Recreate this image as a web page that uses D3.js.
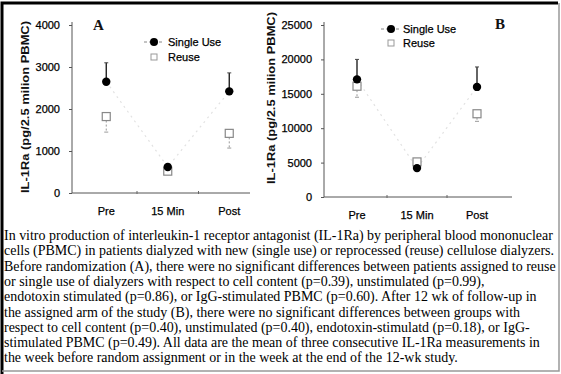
<!DOCTYPE html>
<html>
<head>
<meta charset="utf-8">
<script src="https://cdn.jsdelivr.net/npm/d3@7"></script>
<style>
  body { margin: 0; background: #fff; }
  svg { display: block; }
</style>
</head>
<body>
<svg id="chart" width="561" height="374"></svg>
<script>
var width = 561, height = 374

// data
var categories = ['Pre', '15 Min', 'Post']

// panel A (before randomization)
var singleA = [2650, 620, 2420]
var singleAErr = [3100, 620, 2860]   // upper end of error bar
var reuseA = [1820, 520, 1420]
var reuseAErr = [1450, 520, 1070]    // lower end of error bar
var ticksA = [0, 1000, 2000, 3000, 4000]

// panel B (after 12 wk)
var singleB = [17100, 4200, 16000]
var singleBErr = [20000, 4200, 18900]
var reuseB = [16100, 5100, 12100]
var reuseBErr = [14500, 5100, 11000]
var ticksB = [0, 5000, 10000, 15000, 20000, 25000]

var yLabel = 'IL-1Ra (pg/2.5 milion PBMC)'
var legendNames = ['Single Use', 'Reuse']

var caption = [
  'In vitro production of interleukin-1 receptor antagonist (IL-1Ra) by peripheral blood mononuclear',
  'cells (PBMC) in patients dialyzed with new (single use) or reprocessed (reuse) cellulose dialyzers.',
  'Before randomization (A), there were no significant differences between patients assigned to reuse',
  'or single use of dialyzers with respect to cell content (p=0.39), unstimulated (p=0.99),',
  'endotoxin stimulated (p=0.86), or IgG-stimulated PBMC (p=0.60). After 12 wk of follow-up in',
  'the assigned arm of the study (B), there were no significant differences between groups with',
  'respect to cell content (p=0.40), unstimulated (p=0.40), endotoxin-stimulatd (p=0.18), or IgG-',
  'stimulated PBMC (p=0.49). All data are the mean of three consecutive IL-1Ra measurements in',
  'the week before random assignment or in the week at the end of the 12-wk study.'
]

var svg = d3.select('#chart')

function panel(opt) {
  var g = svg.append('g')
  var y = d3.scaleLinear().domain([0, opt.yMax]).range([opt.y0, opt.y1])
  var x = d3.scaleBand().domain(categories).range([opt.x0, opt.x0 + opt.step * 3])

  var cx = function(d, i) { return x(categories[i]) + x.bandwidth() / 2 }

  // y axis
  var ya = g.append('g')
    .attr('transform', 'translate(' + opt.axisX + ',0)')
    .call(d3.axisLeft(y).tickValues(opt.ticks).tickSize(3).tickPadding(9).tickFormat(d3.format('d')))
  ya.select('.domain').attr('d', 'M0,' + (opt.y1 - 3) + 'V' + opt.y0).attr('stroke', '#555')
  ya.selectAll('.tick line').attr('stroke', '#555')
  ya.selectAll('.tick text')
    .attr('font-family', 'Liberation Sans, Arial, sans-serif')
    .attr('font-size', 11).attr('fill', '#000')
    .attr('stroke', '#000').attr('stroke-width', 0.25)

  // x axis
  var xa = g.append('g')
    .attr('transform', 'translate(0,' + opt.y0 + ')')
  xa.append('line')
    .attr('x1', opt.axisX).attr('x2', opt.axisEnd)
    .attr('stroke', '#555')
  xa.selectAll('.sep')
    .data(categories.slice(1))
    .enter().append('line')
    .attr('x1', function(d) { return x(d) }).attr('x2', function(d) { return x(d) })
    .attr('y1', -2).attr('y2', 1)
    .attr('stroke', '#666')
  xa.selectAll('.cat')
    .data(categories)
    .enter().append('text')
    .attr('x', function(d) { return x(d) + x.bandwidth() / 2 })
    .attr('y', opt.catY - opt.y0)
    .attr('text-anchor', 'middle')
    .attr('font-family', 'Liberation Sans, Arial, sans-serif')
    .attr('font-size', 11).attr('fill', '#000')
    .attr('stroke', '#000').attr('stroke-width', 0.25)
    .text(function(d) { return d })

  // y label
  g.append('text')
    .attr('transform', 'translate(' + opt.labelX + ',' + opt.labelY + ') rotate(-90)')
    .attr('text-anchor', 'middle')
    .attr('font-family', 'Liberation Sans, Arial, sans-serif')
    .attr('font-weight', 'bold')
    .attr('font-size', 11)
    .attr('textLength', 172).attr('lengthAdjust', 'spacingAndGlyphs')
    .attr('fill', '#111')
    .text(yLabel)

  // faint dotted connector through the single use means
  g.append('path')
    .datum(opt.single)
    .attr('fill', 'none')
    .attr('stroke', '#e2e2e2')
    .attr('stroke-width', 1.2)
    .attr('stroke-dasharray', '2,4')
    .attr('d', d3.line().x(cx).y(function(d) { return y(d) }))

  // reuse error bars (down) + open squares
  g.selectAll('.rerr')
    .data(opt.reuse)
    .enter().append('line')
    .attr('x1', cx).attr('x2', cx)
    .attr('y1', function(d) { return y(d) })
    .attr('y2', function(d, i) { return y(opt.reuseErr[i]) })
    .attr('stroke', '#999').attr('stroke-dasharray', '2,2')
  g.selectAll('.rcap')
    .data(opt.reuseErr)
    .enter().append('line')
    .attr('x1', function(d, i) { return cx(d, i) - 2 }).attr('x2', function(d, i) { return cx(d, i) + 2 })
    .attr('y1', function(d) { return y(d) }).attr('y2', function(d) { return y(d) })
    .attr('stroke', '#999')

  // single use error bars (up)
  g.selectAll('.serr')
    .data(opt.single)
    .enter().append('line')
    .attr('x1', cx).attr('x2', cx)
    .attr('y1', function(d) { return y(d) })
    .attr('y2', function(d, i) { return y(opt.singleErr[i]) })
    .attr('stroke', '#111').attr('stroke-width', 1.3)
  g.selectAll('.scap')
    .data(opt.singleErr)
    .enter().append('line')
    .attr('x1', function(d, i) { return cx(d, i) - 2 }).attr('x2', function(d, i) { return cx(d, i) + 2 })
    .attr('y1', function(d) { return y(d) }).attr('y2', function(d) { return y(d) })
    .attr('stroke', '#444')

  g.selectAll('.sq')
    .data(opt.reuse)
    .enter().append('rect')
    .attr('x', function(d, i) { return cx(d, i) - 4 })
    .attr('y', function(d) { return y(d) - 4 })
    .attr('width', 8).attr('height', 8)
    .attr('fill', '#fff').attr('stroke', '#888').attr('stroke-width', 1.2)

  g.selectAll('.dot')
    .data(opt.single)
    .enter().append('circle')
    .attr('cx', cx)
    .attr('cy', function(d) { return y(d) })
    .attr('r', 4.2)
    .attr('fill', '#000')

  // legend
  var lg = g.append('g')
    .attr('font-family', 'Liberation Sans, Arial, sans-serif')
    .attr('font-size', 11).attr('fill', '#000')
  lg.append('line')
    .attr('x1', opt.legX - 10).attr('x2', opt.legX + 9)
    .attr('y1', opt.legY).attr('y2', opt.legY)
    .attr('stroke', '#888').attr('stroke-dasharray', '3,2')
  lg.append('circle').attr('cx', opt.legX).attr('cy', opt.legY).attr('r', 4).attr('fill', '#000')
  lg.append('rect')
    .attr('x', opt.legX - 3).attr('y', opt.legY + opt.legGap - 3)
    .attr('width', 6).attr('height', 6)
    .attr('fill', '#fff').attr('stroke', '#999')
  lg.selectAll('.lt')
    .data(legendNames)
    .enter().append('text')
    .attr('x', opt.legTextX)
    .attr('y', function(d, i) { return opt.legY + i * opt.legGap + 4 })
    .attr('stroke', '#000').attr('stroke-width', 0.25)
    .text(function(d) { return d })

  // panel letter
  g.append('text')
    .attr('x', opt.letterX).attr('y', opt.letterY)
    .attr('font-family', 'Liberation Serif, Times New Roman, serif')
    .attr('font-weight', 'bold').attr('font-size', 15)
    .attr('fill', '#111')
    .text(opt.letter)
}

panel({
  yMax: 4000, ticks: ticksA, y0: 193, y1: 25,
  x0: 75.5, step: 61.5, axisX: 72, axisEnd: 250, catY: 215,
  single: singleA, singleErr: singleAErr, reuse: reuseA, reuseErr: reuseAErr,
  labelX: 29, labelY: 107,
  legX: 154, legY: 42, legGap: 15, legTextX: 168,
  letter: 'A', letterX: 93, letterY: 30
})

panel({
  yMax: 25000, ticks: ticksB, y0: 197, y1: 25,
  x0: 327, step: 60, axisX: 324, axisEnd: 512, catY: 219,
  single: singleB, singleErr: singleBErr, reuse: reuseB, reuseErr: reuseBErr,
  labelX: 275, labelY: 98,
  legX: 391, legY: 29, legGap: 14, legTextX: 403,
  letter: 'B', letterX: 495, letterY: 29
})

// caption
var cap = svg.append('g')
  .attr('font-family', 'Liberation Serif, Times New Roman, serif')
  .attr('fill', '#000')
var capText = cap.selectAll('text')
  .data(caption)
  .enter().append('text')
  .attr('x', 4)
  .attr('y', function(d, i) { return 240 + i * 15.3 })
  .attr('font-size', 12)
  .text(function(d) { return d })
// scale the font so the first line spans the width as in the scan
var w0 = capText.node().getComputedTextLength()
capText.attr('font-size', 12 * 549 / w0)

// border of the scanned figure
svg.append('path')
  .attr('d', 'M2,374V3H558')
  .attr('fill', 'none').attr('stroke', '#000').attr('stroke-width', 3)
svg.append('path')
  .attr('d', 'M559,3V371H2')
  .attr('fill', 'none').attr('stroke', '#999').attr('stroke-width', 1.5)
</script>
</body>
</html>
